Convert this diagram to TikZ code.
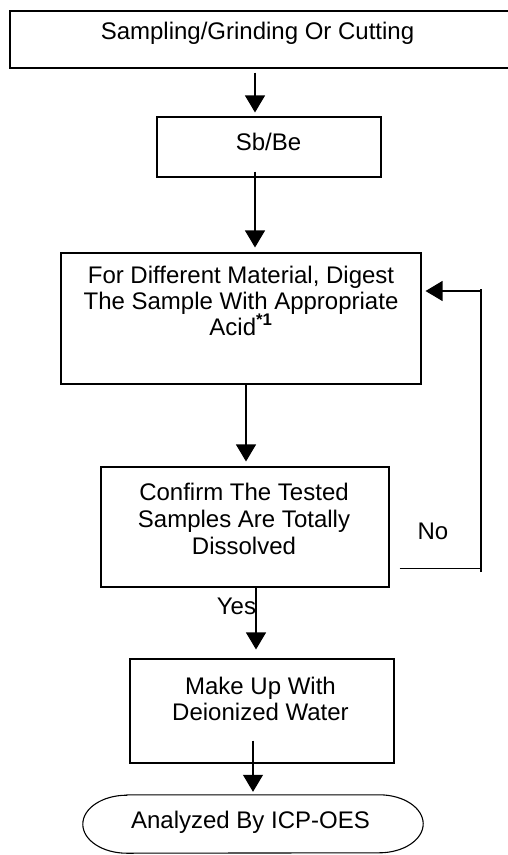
\documentclass[tikz,border=0pt]{standalone}
\usepackage{fontspec}
\setmainfont{Liberation Sans}
\usetikzlibrary{arrows.meta}
\begin{document}
\begin{tikzpicture}[x=1pt,y=-1pt,
  box/.style={draw, line width=1.1pt, rectangle, inner sep=0pt},
  lbl/.style={font=\fontsize{24}{27}\selectfont, align=center, inner sep=0pt, anchor=base},
  arr/.style={line width=1.2pt, -{Triangle[width=20pt,length=17pt]}},
  ln/.style={line width=1.2pt}]
\useasboundingbox (0,0) rectangle (508,855);
\clip (0,0) rectangle (508,855);
% boxes
\node[box, minimum width=505pt, minimum height=57pt] (b1) at (262.5,39.5) {};
\node[box, minimum width=224pt, minimum height=60pt] (b2) at (269,147) {};
\node[box, minimum width=360pt, minimum height=131pt] (b3) at (241,318.5) {};
\node[box, minimum width=288pt, minimum height=120pt] (b4) at (245,527) {};
\node[box, minimum width=264pt, minimum height=104pt] (b5) at (262,711) {};
\node[inner sep=0pt, minimum width=340pt, minimum height=58pt] (term) at (253,824) {};
\draw[line width=1.1pt] ([xshift=44pt]term.north west) -- ([xshift=-44pt]term.north east)
  arc[start angle=90, end angle=-90, x radius=44pt, y radius=29pt]
  -- ([xshift=44pt]term.south west)
  arc[start angle=270, end angle=90, x radius=44pt, y radius=29pt] -- cycle;
% texts
\node[lbl] (t1) at (257.5,39) {Sampling/Grinding Or Cutting};
\node[lbl] (t2) at (268.5,150) {Sb/Be};
\node[lbl] (t3) at (241,335) {For Different Material, Digest\\[-1pt]The Sample With Appropriate\\[-1pt]Acid\textsuperscript{\textbf{*1}}};
\node[lbl] (t4) at (244,554) {Confirm The Tested\\Samples Are Totally\\Dissolved};
\node[lbl] (t5) at (260.5,720) {Make Up With\\[-1pt]Deionized Water};
\node[lbl] (t6) at (250.5,828) {Analyzed By ICP-OES};
\node[lbl] (no) at (433,539) {No};
\node[lbl] (yes) at (236.5,614) {Yes};
% connectors
\draw[arr] ([xshift=-7.5pt,yshift=-4pt]b1.south) -- ([xshift=-14pt,yshift=4pt]b2.north);
\draw[arr] ([xshift=-14pt,yshift=6pt]b2.south) -- ([xshift=14pt,yshift=5pt]b3.north);
\draw[arr] ([xshift=5pt]b3.south) -- ([xshift=1pt,yshift=5pt]b4.north);
\draw[arr] ([xshift=11pt]b4.south) -- ([xshift=-6pt,yshift=9pt]b5.north);
\draw[arr] ([xshift=-9pt,yshift=23pt]b5.south) -- ([yshift=3pt]term.north);
% feedback loop
\coordinate (fbBot) at (481,572);
\coordinate (fbTop) at (481,289);
\coordinate (fbStart) at ([xshift=10pt,yshift=19pt]b4.south east);
\coordinate (fbTip) at ([xshift=4pt,yshift=27.5pt]b3.east);
\draw[ln] (fbStart) -- (fbBot |- fbStart);
\draw[ln] (fbBot) -- (fbTop);
\draw[arr] (fbTop |- fbTip) -- (fbTip);
\end{tikzpicture}
\end{document}
